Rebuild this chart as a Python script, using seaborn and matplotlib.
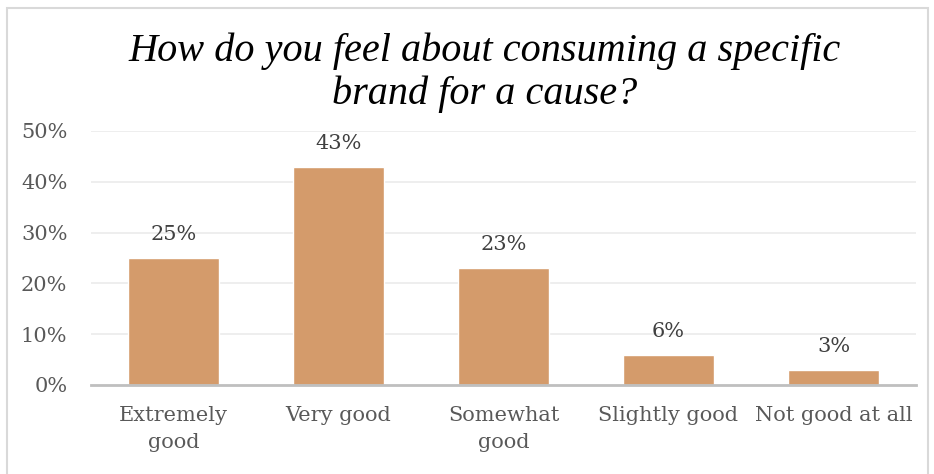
import matplotlib
matplotlib.use("Agg")
import matplotlib.pyplot as plt
import seaborn as sns
import pandas as pd

categories = ["Extremely\ngood", "Very good", "Somewhat\ngood", "Slightly good", "Not good at all"]
shares = [25, 43, 23, 6, 3]
y_ticks = [0, 10, 20, 30, 40, 50]
y_tick_labels = ["0%", "10%", "20%", "30%", "40%", "50%"]
title = "How do you feel about consuming a specific\nbrand for a cause?"

sns.set_theme(style="white")
plt.rcParams["font.family"] = ["DejaVu Serif", "Liberation Serif"]

df = pd.DataFrame({"category": categories, "share": shares})

fig = plt.figure(figsize=(9.34, 4.74), dpi=100)
ax = fig.add_axes([91 / 934, 1 - 385 / 474, (916 - 91) / 934, (385 - 131) / 474])

sns.barplot(data=df, x="category", y="share", color="#D49B6B", width=0.55,
            saturation=1, ax=ax, zorder=3)

ax.set_ylim(0, 50)
ax.set_yticks(y_ticks)
ax.set_yticklabels(y_tick_labels)
ax.set_xlabel("")
ax.set_ylabel("")
for y in y_ticks[1:]:
    ax.axhline(y, color="#EBEBEB", lw=1.2, zorder=1)
for s in ["top", "right", "left"]:
    ax.spines[s].set_visible(False)
ax.spines["bottom"].set_color("#BFBFBF")
ax.spines["bottom"].set_linewidth(2)
ax.spines["bottom"].set_zorder(4)
ax.tick_params(axis="both", length=0, labelsize=15, colors="#595959")
ax.tick_params(axis="x", pad=15)
ax.tick_params(axis="y", pad=17)
for lbl in ax.get_xticklabels():
    lbl.set_linespacing(1.55)

for i, v in enumerate(shares):
    ax.text(i, v + 4.6, f"{v}%", ha="center", va="center", fontsize=15, color="#404040")

fig.text(485 / 934, 1 - 73 / 474, title, ha="center", va="center", fontsize=29,
         style="italic", color="#000000", linespacing=1.2, family="Liberation Serif")

# thin frame around the chart area
frame = plt.Rectangle((7 / 934, -0.1), (928 - 7) / 934, 1.1 - 8 / 474, transform=fig.transFigure,
                      fill=False, edgecolor="#D9D9D9", lw=1.5)
fig.patches.append(frame)

fig.savefig("out.png", dpi=100)
